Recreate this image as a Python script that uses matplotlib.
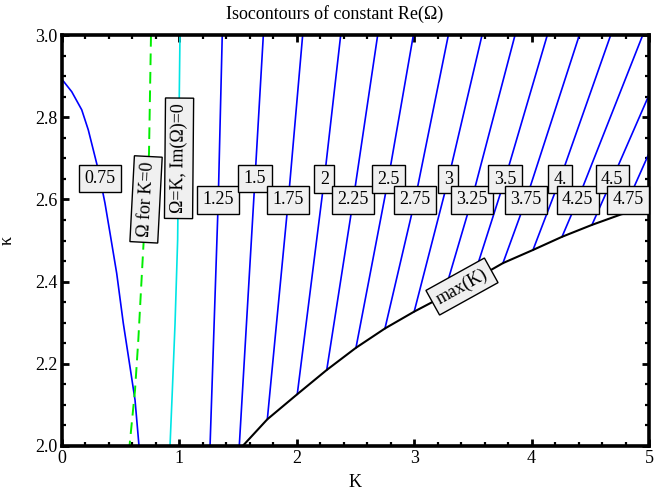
import matplotlib
matplotlib.use('Agg')
import matplotlib.pyplot as plt
from matplotlib.ticker import MultipleLocator, FixedLocator, FixedFormatter

plt.rcParams['font.family'] = ['Liberation Serif', 'DejaVu Serif']

# ---------------- data ----------------
# Re(Omega) = 0.75 isocontour
c075_K = [0.0, 0.083, 0.168, 0.224, 0.267, 0.309, 0.366, 0.409, 0.466, 0.522, 0.579, 0.622, 0.656]
c075_kappa = [2.892, 2.862, 2.818, 2.769, 2.720, 2.672, 2.591, 2.518, 2.420, 2.299, 2.193, 2.112, 2.0]

# Omega for K=0 (green dashed)
green_K = [0.758, 0.741, 0.693, 0.673, 0.650, 0.622, 0.575]
green_kappa = [3.0, 2.712, 2.485, 2.380, 2.258, 2.136, 2.0]

# Omega=K, Im(Omega)=0 (cyan)
cyan_K = [1.005, 0.991, 0.985, 0.963, 0.940, 0.920]
cyan_kappa = [3.0, 2.660, 2.501, 2.299, 2.136, 2.0]

# max(K) boundary (black)
maxK_K = [1.539, 1.749, 2.004, 2.255, 2.504, 2.751, 3.0, 3.407, 3.756, 4.012, 4.259, 4.514, 4.796, 5.0]
maxK_kappa = [2.0, 2.065, 2.126, 2.185, 2.239, 2.286, 2.327, 2.388, 2.445, 2.477, 2.509, 2.538, 2.567, 2.582]

# other isocontours: points (top / label crossing / end)
levels = ['1.25', '1.5', '1.75', '2', '2.25', '2.5', '2.75', '3', '3.25', '3.5',
          '3.75', '4.', '4.25', '4.5', '4.75']
contour_K = [
    [1.365, 1.331, 1.261],
    [1.715, 1.644, 1.510],
    [2.050, 1.928, 1.749],
    [2.374, 2.234, 2.004],
    [2.689, 2.481, 2.255],
    [2.993, 2.779, 2.504],
    [3.291, 3.007, 2.751],
    [3.578, 3.290, 3.000],
    [3.859, 3.490, 3.250],
    [4.134, 3.773, 3.500],
    [4.407, 3.952, 3.756],
    [4.674, 4.242, 4.012],
    [4.947, 4.393, 4.259],
    [5.000, 4.687, 4.514],
    [5.000, 4.824, 4.770],
]
contour_kappa = [
    [3.0, 2.599, 2.0],
    [3.0, 2.651, 2.0],
    [3.0, 2.599, 2.065],
    [3.0, 2.649, 2.126],
    [3.0, 2.599, 2.185],
    [3.0, 2.649, 2.239],
    [3.0, 2.599, 2.286],
    [3.0, 2.649, 2.327],
    [3.0, 2.599, 2.366],
    [3.0, 2.649, 2.405],
    [3.0, 2.599, 2.445],
    [3.0, 2.649, 2.477],
    [3.0, 2.599, 2.509],
    [2.854, 2.649, 2.538],
    [2.712, 2.599, 2.564],
]
# label anchor = middle point of each contour
label_075 = (0.324, 2.651)
label_green = (0.716, 2.600)
label_cyan = (0.997, 2.700)
label_maxK = (3.407, 2.388)

x_ticks = [0, 1, 2, 3, 4, 5]
y_ticks = [2.0, 2.2, 2.4, 2.6, 2.8, 3.0]
y_ticklabels = ['2.0', '2.2', '2.4', '2.6', '2.8', '3.0']

# ---------------- figure ----------------
fig = plt.figure(figsize=(6.69, 4.97), dpi=100)
ax = fig.add_axes([62 / 669, 51 / 497, 587 / 669, 411 / 497])

FS = 13
BLUE = '#0000ff'
bbox = dict(boxstyle='square,pad=0.3', facecolor='#f0f0f0', edgecolor='black', linewidth=1.0)

ax.plot(c075_K, c075_kappa, color=BLUE, lw=1.2, zorder=2)
for ks, kps in zip(contour_K, contour_kappa):
    ax.plot(ks, kps, color=BLUE, lw=1.2, zorder=2)
ax.plot(green_K, green_kappa, color='#00ee00', lw=1.4, ls=(0, (6, 3.5)), zorder=2)
ax.plot(cyan_K, cyan_kappa, color='#00e5e5', lw=1.2, zorder=2)
ax.plot(maxK_K, maxK_kappa, color='black', lw=1.5, zorder=3)

# labels
ax.text(*label_075, '0.75', fontsize=FS, ha='center', va='center', bbox=bbox, zorder=5)
for lab, ks, kps in zip(levels, contour_K, contour_kappa):
    ax.text(ks[1], kps[1], lab, fontsize=FS, ha='center', va='center', bbox=bbox, zorder=5)
ax.text(*label_green, 'Ω for K=0', fontsize=FS, ha='center', va='center',
        rotation=87, rotation_mode='anchor', bbox=bbox, zorder=5)
ax.text(*label_cyan, 'Ω=K, Im(Ω)=0', fontsize=FS, ha='center', va='center',
        rotation=89.5, rotation_mode='anchor', bbox=bbox, zorder=5)
ax.text(*label_maxK, 'max(K)', fontsize=FS, ha='center', va='center',
        rotation=29, rotation_mode='anchor', bbox=bbox, zorder=5)

ax.set_xlim(0, 5)
ax.set_ylim(2.0, 3.0)
ax.xaxis.set_major_locator(FixedLocator(x_ticks))
ax.xaxis.set_major_formatter(FixedFormatter([str(v) for v in x_ticks]))
ax.xaxis.set_minor_locator(MultipleLocator(0.2))
ax.yaxis.set_major_locator(FixedLocator(y_ticks))
ax.yaxis.set_major_formatter(FixedFormatter(y_ticklabels))
ax.yaxis.set_minor_locator(MultipleLocator(0.05))
ax.tick_params(which='both', direction='in', top=True, right=True, labelsize=FS, pad=3)
ax.tick_params(which='major', length=5, width=2)
ax.tick_params(which='minor', length=3, width=1.6)
for sp in ax.spines.values():
    sp.set_linewidth(2.6)

fig.text(0.5, 1 - 14 / 497, 'Isocontours of constant Re(Ω)', fontsize=FS, ha='center', va='center')
ax.set_xlabel('K', fontsize=FS, labelpad=5)
ax.set_ylabel('κ', fontsize=FS, labelpad=14)

fig.savefig('out.png', dpi=100)
